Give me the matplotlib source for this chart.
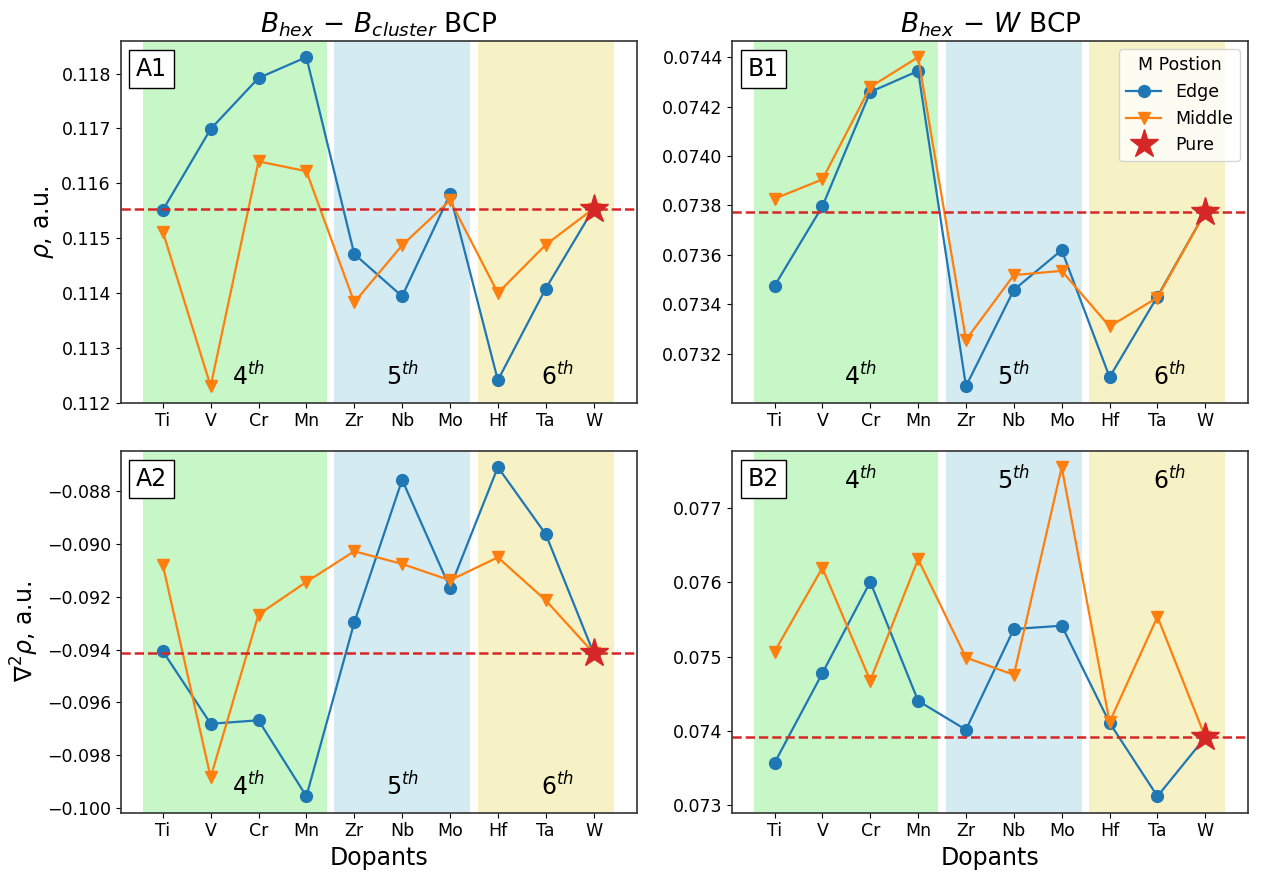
import numpy as np
import matplotlib.pyplot as plt

# dopant elements along the x axis
dopants = ["Ti", "V", "Cr", "Mn", "Zr", "Nb", "Mo", "Hf", "Ta", "W"]

# B_hex - B_cluster BCP : rho
rho_a_edge = [0.11551, 0.11699, 0.11792, 0.11830, 0.11471, 0.11394, 0.11580, 0.11241, 0.11408, 0.11554]
rho_a_middle = [0.11512, 0.11230, 0.11640, 0.11622, 0.11383, 0.11487, 0.11569, 0.11400, 0.11488, 0.11554]
rho_a_pure = 0.11554

# B_hex - B_cluster BCP : laplacian
lap_a_edge = [-0.09406, -0.09681, -0.09668, -0.09956, -0.09297, -0.08756, -0.09166, -0.08708, -0.08962, -0.09413]
lap_a_middle = [-0.09078, -0.09884, -0.09267, -0.09143, -0.09027, -0.09075, -0.09137, -0.09050, -0.09213, -0.09413]
lap_a_pure = -0.09413

# B_hex - W BCP : rho
rho_b_edge = [0.073474, 0.073796, 0.074259, 0.074344, 0.073068, 0.073458, 0.073619, 0.073105, 0.073431, 0.073773]
rho_b_middle = [0.073827, 0.073905, 0.074279, 0.074400, 0.073256, 0.073518, 0.073535, 0.073310, 0.073427, 0.073773]
rho_b_pure = 0.073773

# B_hex - W BCP : laplacian
lap_b_edge = [0.073569, 0.074777, 0.076007, 0.074405, 0.074016, 0.075372, 0.075416, 0.074110, 0.073121, 0.073915]
lap_b_middle = [0.075067, 0.076195, 0.074678, 0.076311, 0.074987, 0.074755, 0.077550, 0.074120, 0.075537, 0.073915]
lap_b_pure = 0.073915

periods = ["4$^{th}$", "5$^{th}$", "6$^{th}$"]

x = np.arange(len(dopants))

fig, axs = plt.subplots(2, 2, figsize=(12.61, 8.77), dpi=100)
plt.subplots_adjust(left=0.0957, right=0.990, top=0.9536, bottom=0.0733, wspace=0.1855, hspace=0.1326)

panels = [
    (axs[0, 0], rho_a_edge, rho_a_middle, rho_a_pure, "A1", 0.075),
    (axs[1, 0], lap_a_edge, lap_a_middle, lap_a_pure, "A2", 0.075),
    (axs[0, 1], rho_b_edge, rho_b_middle, rho_b_pure, "B1", 0.075),
    (axs[1, 1], lap_b_edge, lap_b_middle, lap_b_pure, "B2", 0.92),
]

for ax, edge, middle, pure, tag, ty in panels:
    # row-of-periodic-table bands
    ax.axvspan(-0.42, 3.42, color="lightgreen", alpha=0.5, lw=0)
    ax.axvspan(3.58, 6.42, color="lightblue", alpha=0.5, lw=0)
    ax.axvspan(6.58, 9.42, color="khaki", alpha=0.5, lw=0)

    ax.plot(x, edge, marker="o", ms=8.5, lw=1.6, color="#1f77b4", label="Edge")
    ax.plot(x, middle, marker="v", ms=8.5, lw=1.6, color="#ff7f0e", label="Middle")
    ax.axhline(pure, color="#d62728", ls="--", lw=1.8)
    ax.plot(x[-1], pure, marker="*", ms=21, color="#d62728", ls="none", label="Pure")

    for xp, lab in zip([1.8, 5.0, 8.25], periods):
        ax.text(xp, ty, lab, transform=ax.get_xaxis_transform(), ha="center", va="center", fontsize=17)

    ax.text(0.03, 0.955, tag, transform=ax.transAxes, ha="left", va="top", fontsize=17,
            bbox=dict(facecolor="white", edgecolor="black", boxstyle="square,pad=0.3"))

    ax.set_xticks(x)
    ax.set_xticklabels(dopants)
    ax.set_xlim(-0.88, 9.9)
    ax.tick_params(labelsize=12.5)
    for s in ax.spines.values():
        s.set_color("#333333")
        s.set_linewidth(1.2)

axs[0, 0].set_title(r"$B_{hex}\,-\,B_{cluster}$ BCP", fontsize=19)
axs[0, 1].set_title(r"$B_{hex}\,-\,W$ BCP", fontsize=19)
axs[0, 0].set_ylabel(r"$\rho$, a.u.", fontsize=17)
axs[1, 0].set_ylabel(r"$\nabla^2\rho$, a.u.", fontsize=17)
axs[1, 0].set_xlabel("Dopants", fontsize=17)
axs[1, 1].set_xlabel("Dopants", fontsize=17)

axs[0, 1].legend(title="M Postion", fontsize=12.5, title_fontsize=12.5, loc="upper right")

plt.savefig("out.png", dpi=100)
